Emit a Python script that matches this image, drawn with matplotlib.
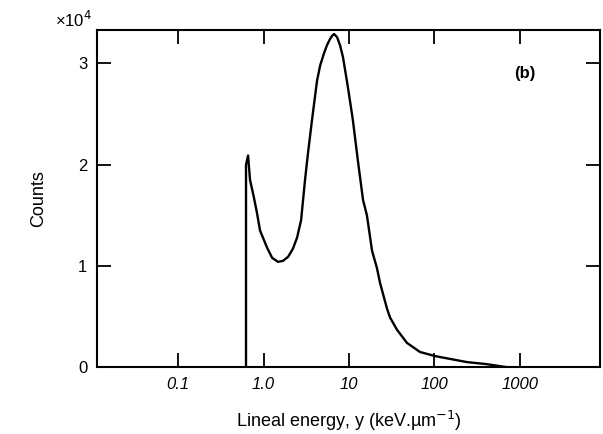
import matplotlib
matplotlib.use('Agg')
from matplotlib import pyplot as plt
from matplotlib.ticker import FixedLocator, FixedFormatter, NullLocator

plt.rcParams['font.family'] = ['Liberation Sans', 'DejaVu Sans']

# lineal energy y (keV/um) and counts (x10^4)
lineal_energy = [0.624, 0.624, 0.66, 0.695, 0.77, 0.84, 0.91, 1.10, 1.26, 1.48,
                 1.69, 1.94, 2.21, 2.47, 2.75, 3.06, 3.31, 3.69, 4.23, 4.6,
                 5.1, 5.53, 6.0, 6.32, 6.68, 7.24, 7.85, 8.51, 9.73, 11.1,
                 12.7, 14.6, 16.2, 18.6, 21.2, 23.1, 27.8, 30.2, 36.4, 47.6,
                 67.6, 101, 116, 240, 407, 700]
counts = [0.0, 2.0, 2.09, 1.85, 1.68, 1.52, 1.35, 1.18, 1.08, 1.04,
          1.05, 1.09, 1.17, 1.28, 1.45, 1.85, 2.11, 2.44, 2.83, 2.98,
          3.10, 3.18, 3.24, 3.27, 3.29, 3.26, 3.18, 3.06, 2.76, 2.44,
          2.04, 1.65, 1.50, 1.15, 0.98, 0.83, 0.58, 0.49, 0.37, 0.24,
          0.15, 0.11, 0.10, 0.05, 0.03, 0.0]

x_ticks = [0.1, 1.0, 10, 100, 1000]
x_tick_labels = ['0.1', '1.0', '10', '100', '1000']
y_ticks = [0, 1, 2, 3]
y_tick_labels = ['0', '1', '2', '3']

fig = plt.figure(figsize=(6.03, 4.34), dpi=100)
ax = fig.add_axes([0.161, 0.154, 0.834, 0.777])

ax.plot(lineal_energy, counts, color='black', linewidth=1.7)

ax.set_xscale('log')
ax.set_xlim(0.0113, 8630)
ax.set_ylim(0, 3.33)

ax.xaxis.set_major_locator(FixedLocator(x_ticks))
ax.xaxis.set_major_formatter(FixedFormatter(x_tick_labels))
ax.xaxis.set_minor_locator(NullLocator())
ax.yaxis.set_major_locator(FixedLocator(y_ticks))
ax.yaxis.set_major_formatter(FixedFormatter(y_tick_labels))

ax.tick_params(direction='in', length=10, width=1.3, top=True, right=True,
               labelsize=12, pad=7, colors='black')
for lbl in ax.get_xticklabels():
    lbl.set_style('italic')
for sp in ax.spines.values():
    sp.set_linewidth(1.5)

ax.set_xlabel('Lineal energy, y (keV.µm$^{-1}$)', fontsize=13, labelpad=12)
ax.set_ylabel('Counts', fontsize=13, labelpad=22)

ax.text(-0.01, 1.0, '×10$^4$', transform=ax.transAxes, ha='right', va='bottom',
        fontsize=12)
ax.text(0.85, 0.87, '(b)', transform=ax.transAxes, ha='center', va='center',
        fontsize=12, fontweight='bold')

fig.savefig('out.png', dpi=100)
